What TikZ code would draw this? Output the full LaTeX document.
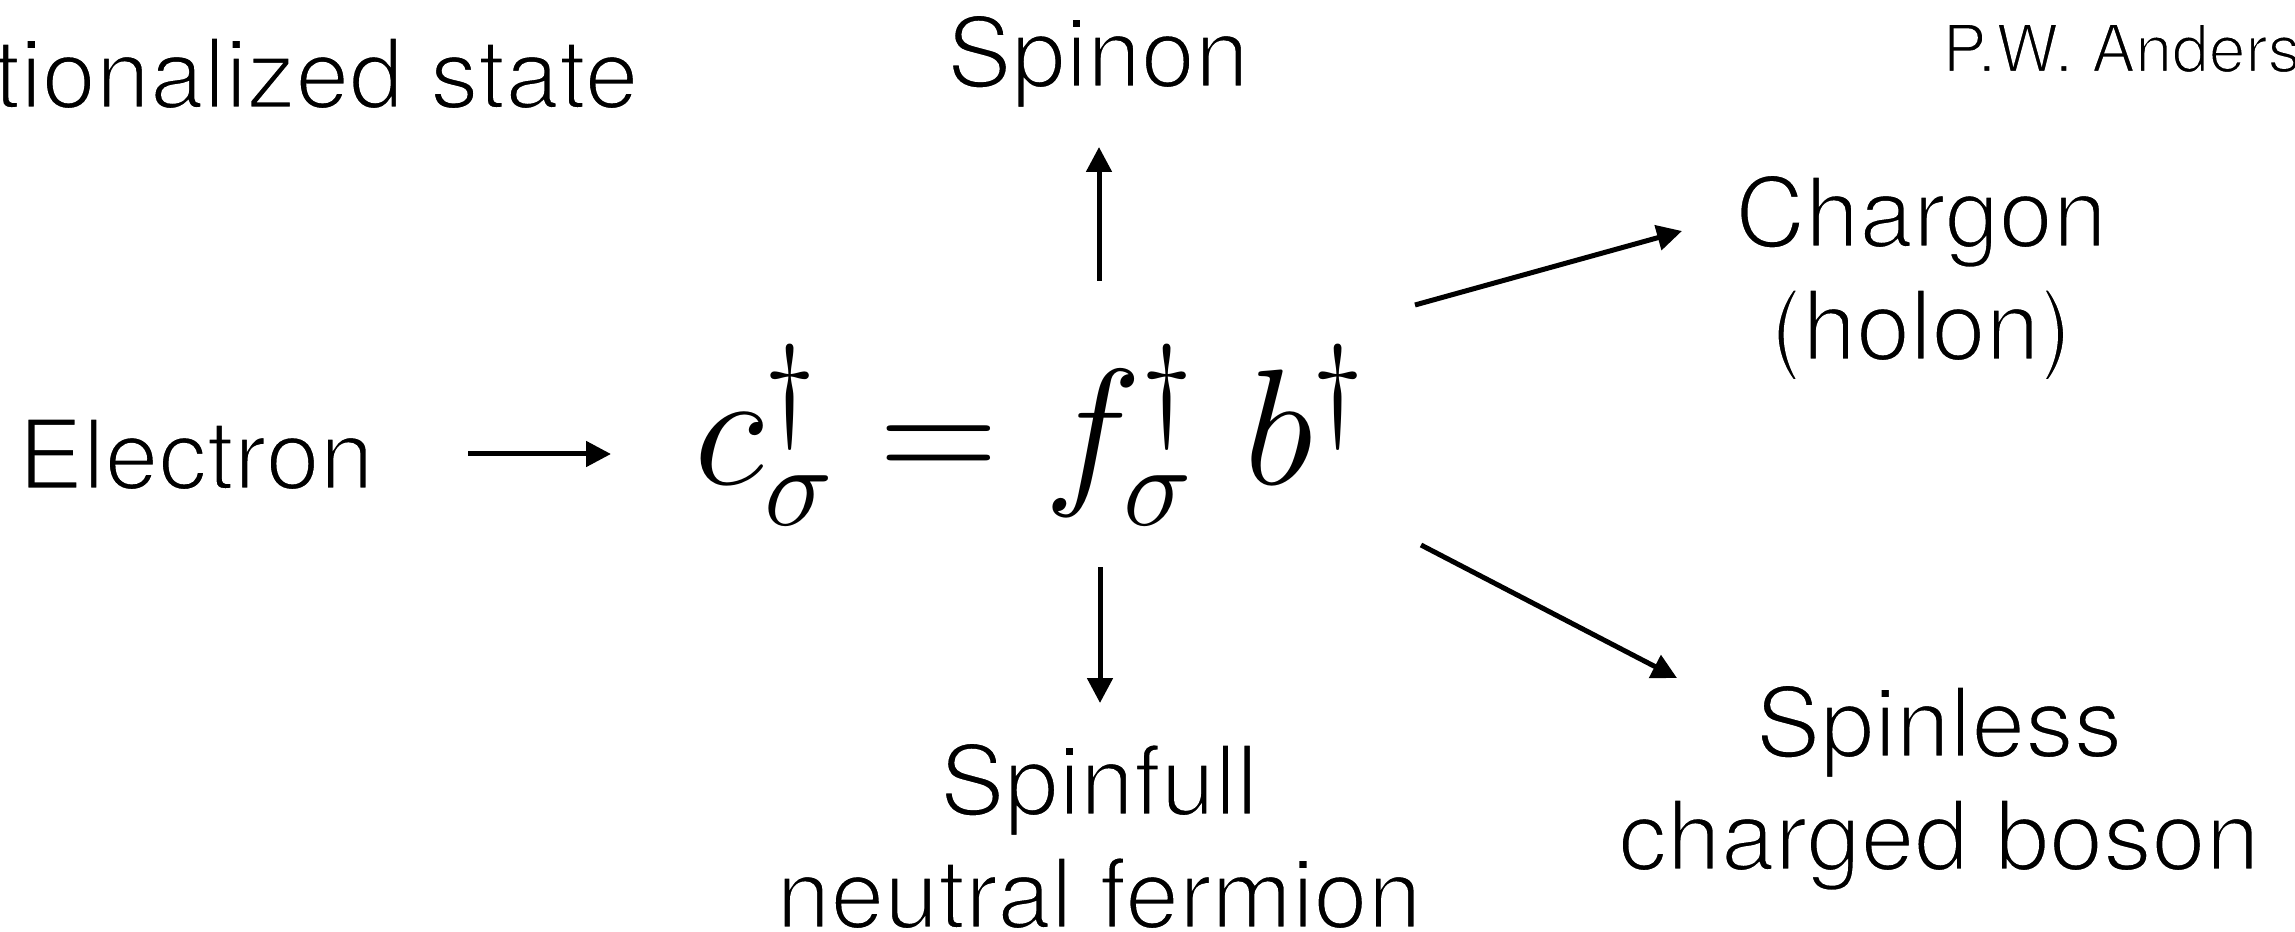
\RequirePackage{fix-cm}
\documentclass[tikz,border=0pt]{standalone}
\usepackage[no-math]{fontspec}
\newfontfamily\hv{TeX Gyre Heros}
\newcommand\thinink{\special{pdf:literal 2 Tr 1 G 1.1 w}}
\usetikzlibrary{arrows.meta}
\tikzset{
  lbl/.style={inner sep=0pt, anchor=base, align=center, font=\hv\fontsize{38.8pt}{45.2pt}\selectfont\thinink},
  conn/.style={line width=2pt, -{Triangle[length=10pt,width=10pt]}}
}
\begin{document}
\begin{tikzpicture}[x=0.4pt,y=-0.4pt]
\useasboundingbox (0,0) rectangle (2295,932);
\node[lbl, anchor=base east] (title) at (639,108) {Fractionalized state};
\node[inner sep=0pt, anchor=base west, font=\hv\fontsize{26.4pt}{30pt}\selectfont\special{pdf:literal 2 Tr 1 G 0.8 w}] (author) at (1942,72) {P.W. Anderson};
\node[lbl] (spinon) at (1098,87) {Spinon};
\node[lbl] (electron) at (196,489) {Electron};
\node[inner sep=0pt, anchor=base, font=\fontsize{66pt}{76pt}\selectfont] (eq) at (1030,485) {$c^\dagger_\sigma = f^\dagger_\sigma\ b^\dagger$};
\node[lbl] (spinfull) at (1099,928) {Spinfull\\neutral fermion};
\node[lbl] (chargon) at (1921,360) {Chargon\\(holon)};
\node[lbl] (spinless) at (1939,870) {Spinless\\charged boson};
\coordinate (eA) at (468,454); \coordinate (eB) at (611,454);
\coordinate (uA) at (1099,281); \coordinate (uB) at (1099,147);
\coordinate (dA) at (1100,567); \coordinate (dB) at (1100,703);
\coordinate (cA) at (1415,305); \coordinate (cB) at (1682,231);
\coordinate (sA) at (1421,545); \coordinate (sB) at (1677,678);
\draw[conn] (eA) -- (eB);
\draw[conn] (uA) -- (uB);
\draw[conn] (dA) -- (dB);
\draw[conn] (cA) -- (cB);
\draw[conn] (sA) -- (sB);
\end{tikzpicture}
\end{document}
